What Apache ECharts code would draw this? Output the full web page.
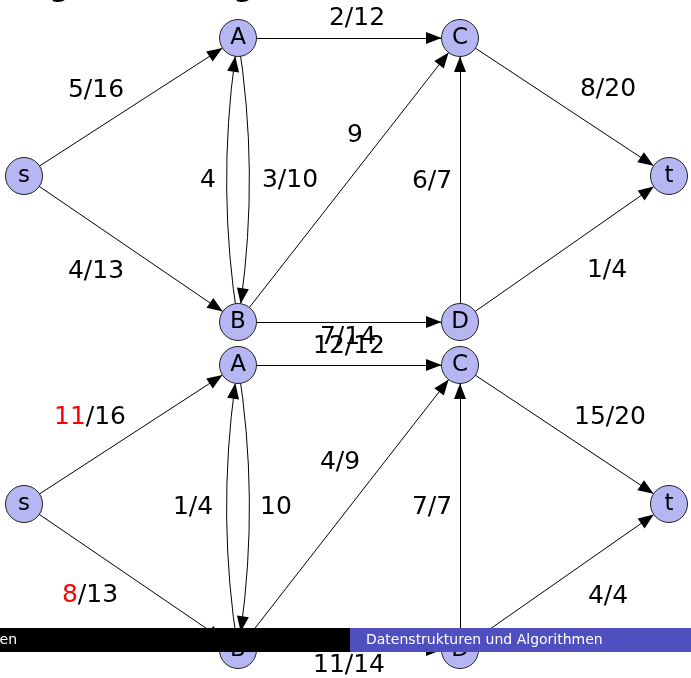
<!DOCTYPE html>
<html><head><meta charset="utf-8">
<script src="https://cdn.jsdelivr.net/npm/echarts@6/dist/echarts.min.js"></script>
<style>html,body{margin:0;padding:0;background:#fff;overflow:hidden}#c{width:691px;height:678px}</style>
</head><body><div id="c"></div>
<script>
// Node layout (diagram units = axis values)
const nodeNames   = ['s', 'A', 'C', 't', 'B', 'D'];
const nodeX       = [24, 238, 460, 669, 238, 460];
const topNodeY    = [176, 38, 38, 176, 322, 322];
const bottomNodeY = [504, 365, 365, 504, 650, 650];

// Edges (same structure in both networks)
const edgeSources = ['s', 's', 'A', 'B', 'A', 'B', 'D', 'C', 'D', 'B'];
const edgeTargets = ['A', 'B', 'C', 'A', 'B', 'C', 'C', 't', 't', 'D'];
const edgeCurves  = [0, 0, 0, 0.08, 0.08, 0, 0, 0, 0, 0];

// Edge labels (flow/capacity) of the upper network
const topFlows  = ['5/16', '4/13', '2/12', '4', '3/10', '9', '6/7', '8/20', '1/4', '7/14'];
const topLabelX = [96, 96, 357, 208, 290, 355, 432, 608, 607, 348];
const topLabelY = [90, 271, 18, 180, 180, 135, 181, 89, 270, 337];

// Edge labels of the lower network ({r|..} = red part)
const bottomFlows  = ['{r|11}/16', '{r|8}/13', '12/12', '1/4', '10', '4/9', '7/7', '15/20', '4/4', '11/14'];
const bottomLabelX = [90, 90, 349, 193, 276, 340, 432, 610, 608, 349];
const bottomLabelY = [417, 595, 346, 507, 507, 462, 507, 417, 596, 665];

const FONT = 'DejaVu Sans';
// arrow head: filled triangle whose tip sits at the centre of the symbol box
const ARROW = 'path://M5,14L10,28L0,28Z M5,0L5,1';

function graphSeries(ys) {
  return {
    type: 'graph',
    coordinateSystem: 'cartesian2d',
    symbol: 'circle',
    symbolSize: 37,
    edgeSymbol: ['none', ARROW],
    edgeSymbolSize: [0, [12, 31]],
    itemStyle: { color: '#b6b6f2', borderColor: '#222', borderWidth: 1, opacity: 1 },
    label: { show: true, position: 'inside', color: '#000', fontSize: 23, fontFamily: FONT, formatter: p => p.name },
    lineStyle: { color: '#000', width: 1, opacity: 1 },
    emphasis: { disabled: true },
    data: nodeNames.map((n, i) => ({ name: n, value: [nodeX[i], ys[i]] })),
    links: edgeSources.map((s, i) => ({ source: s, target: edgeTargets[i], lineStyle: { curveness: edgeCurves[i] } })),
    z: 2
  };
}

function labelSeries(texts, xs, ys) {
  return {
    type: 'scatter',
    symbolSize: 0,
    silent: true,
    z: 3,
    itemStyle: { opacity: 1 },
    label: {
      show: true, position: 'inside', color: '#000', opacity: 1, fontSize: 25, fontFamily: FONT,
      formatter: p => p.value[2],
      rich: { r: { color: '#ff0000', fontSize: 25, fontFamily: FONT } }
    },
    data: texts.map((t, i) => [xs[i], ys[i], t])
  };
}

const chart = echarts.init(document.getElementById('c'), null, { renderer: 'canvas' });
chart.setOption({
  animation: false,
  backgroundColor: '#fff',
  grid: { left: 0, right: 0, top: 0, bottom: 0 },
  xAxis: { type: 'value', min: 0, max: 691, show: false },
  yAxis: { type: 'value', min: 0, max: 678, inverse: true, show: false },
  series: [
    graphSeries(topNodeY),
    graphSeries(bottomNodeY),
    labelSeries(topFlows, topLabelX, topLabelY),
    labelSeries(bottomFlows, bottomLabelX, bottomLabelY)
  ],
  graphic: [
    { type: 'text', z: 50, style: { x: 8, y: 3, text: 'Augmentierung', fontSize: 28, fontWeight: 'bold', fontFamily: FONT, fill: '#000', verticalAlign: 'bottom' } },
    { type: 'rect', z: 100, shape: { x: 0, y: 628, width: 350, height: 24 }, style: { fill: '#000' } },
    { type: 'rect', z: 100, shape: { x: 350, y: 628, width: 341, height: 24 }, style: { fill: '#4f4fbf' } },
    { type: 'text', z: 101, style: { x: 17, y: 640, text: 'Graphen', fontSize: 14, fontFamily: FONT, fill: '#fff', align: 'right', verticalAlign: 'middle' } },
    { type: 'text', z: 101, style: { x: 366, y: 640, text: 'Datenstrukturen und Algorithmen', fontSize: 14, fontFamily: FONT, fill: '#fff', align: 'left', verticalAlign: 'middle' } }
  ]
});
</script>
</body></html>
